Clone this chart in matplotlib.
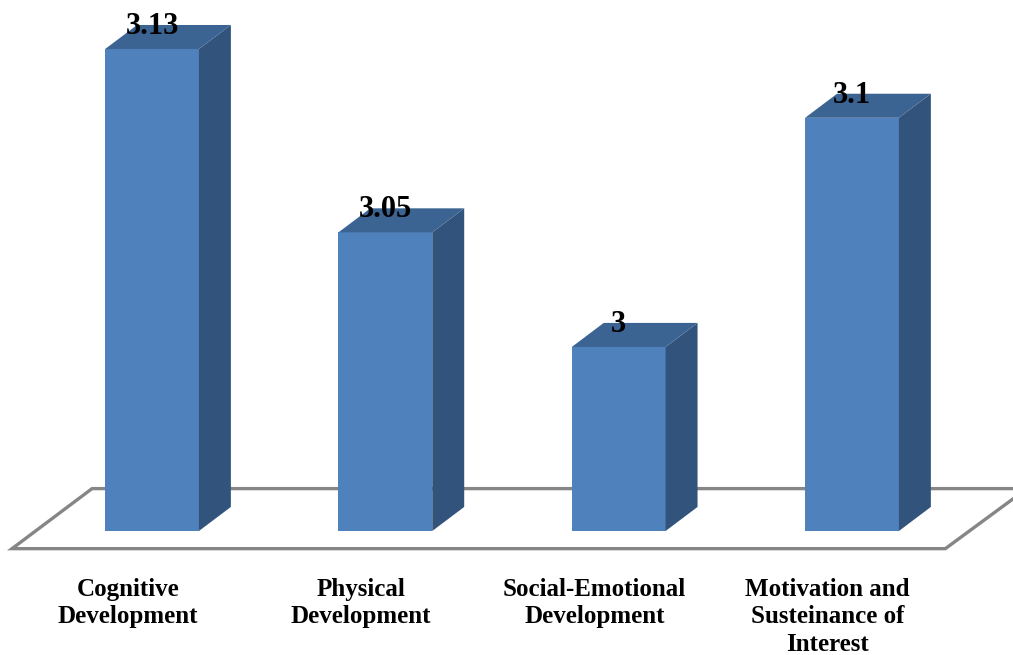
import numpy as np
import matplotlib
matplotlib.use('Agg')
import matplotlib.pyplot as plt
from matplotlib.patches import Polygon

categories = ['Cognitive\nDevelopment', 'Physical\nDevelopment',
              'Social-Emotional\nDevelopment', 'Motivation and\nSusteinance of\nInterest']
values = [3.13, 3.05, 3, 3.1]
value_labels = ['3.13', '3.05', '3', '3.1']

FRONT = '#4f81bd'
SIDE = '#32547c'
TOP = '#3c6493'
FLOOR = '#868686'

plt.rcParams['font.family'] = ['Liberation Serif', 'DejaVu Serif']

fig = plt.figure(figsize=(10.13, 6.55), dpi=100)
ax = fig.add_axes([0, 0, 1, 1])

# axes limits picked so the value scale lines up with the picture
ax.set_xlim(-0.6515, 3.69)
ax.set_ylim(2.8656, 3.1514)
ax.axis('off')

x = np.arange(len(values))
base = 2.9197
width = 0.402
dx = 0.137    # depth of the fake 3d
dy = 0.0105

# floor
floor_y = base - 0.0077
fx = [-0.6, -0.257, 3.75, 3.4]
fy = [floor_y, floor_y + 0.0262, floor_y + 0.0262, floor_y]
ax.add_patch(Polygon(list(zip(fx, fy)), closed=True, facecolor='white',
                     edgecolor=FLOOR, linewidth=2.4, joinstyle='miter', zorder=1))

ax.bar(x, np.array(values) - base, width, bottom=base, color=FRONT, zorder=3)

for xi, v in zip(x, values):
    l = xi - width / 2
    r = xi + width / 2
    ax.add_patch(Polygon([(r, base), (r + dx, base + dy), (r + dx, v + dy), (r, v)],
                         closed=True, facecolor=SIDE, edgecolor='none', zorder=3))
    ax.add_patch(Polygon([(l, v), (l + dx, v + dy), (r + dx, v + dy), (r, v)],
                         closed=True, facecolor=TOP, edgecolor='none', zorder=3))

for xi, v, s in zip(x, values, value_labels):
    ax.text(xi, v + 0.0098, s, ha='center', va='center', fontsize=22,
            fontweight='bold', color='black', zorder=5)

# category labels sit under the floor, a bit left of the bars
for xi, c in zip(x, categories):
    ax.annotate(c, (xi, base), xytext=(-17.5, -33.5), textcoords='offset points',
                ha='center', va='top', fontsize=18, fontweight='bold', linespacing=1.27)

fig.savefig('out.png', dpi=100)
